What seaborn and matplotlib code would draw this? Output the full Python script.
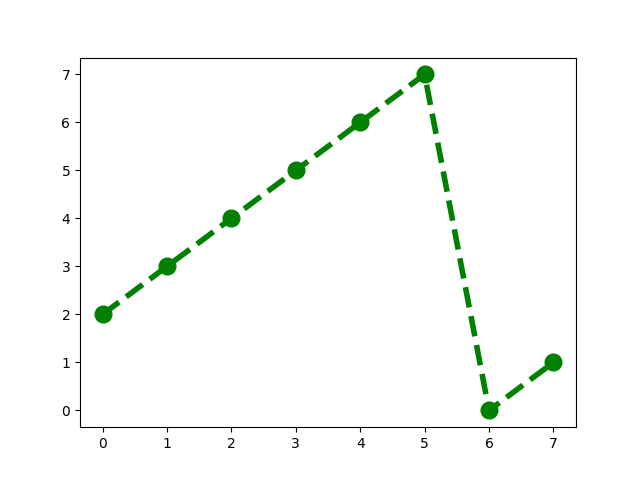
import numpy as np
import pandas as pd
import matplotlib
matplotlib.use('Agg')
import matplotlib.pyplot as plt
import seaborn as sns

# veriler
x_vals = [0, 1, 2, 3, 4, 5, 6, 7]
y_vals = [2, 3, 4, 5, 6, 7, 0, 1]

df = pd.DataFrame({'x': x_vals, 'y': y_vals})

fig, ax = plt.subplots(figsize=(6.4, 4.8), dpi=100)
sns.lineplot(data=df, x='x', y='y', ax=ax, color='green', linestyle='--',
             linewidth=4, marker='o', markersize=12,
             markeredgecolor='green', markeredgewidth=1)
ax.set_xlabel('')
ax.set_ylabel('')
plt.savefig('out.png')
